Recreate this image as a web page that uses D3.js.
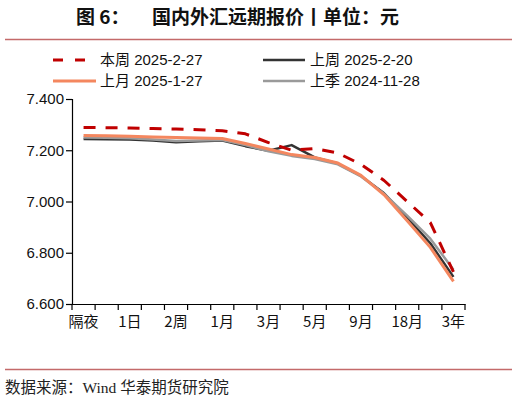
<!DOCTYPE html>
<meta charset="utf-8">
<title>国内外汇远期报价</title>
<style>
  body { margin: 0; background: #fff; }
  svg { display: block; font-family: "Liberation Sans", Arial, "Noto Sans CJK SC", sans-serif; }
  .axis path, .axis line { stroke: #000; stroke-width: 1.2; }
  .axis text { font-size: 14px; fill: #111; }
</style>
<svg width="518" height="399"></svg>
<script src="https://d3js.org/d3.v7.min.js"></script>
<script>

  // tenors (only every other one is labelled in the chart)
  var tenors = ["隔夜", "隔日", "1日", "1周", "2周", "3周", "1月", "2月", "3月", "4月",
                "5月", "6月", "9月", "1年", "18月", "2年", "3年"];

  var thisWeek    = [7.289, 7.288, 7.287, 7.285, 7.283, 7.280, 7.276, 7.264, 7.230, 7.200,
                     7.207, 7.189, 7.145, 7.082, 7.000, 6.918, 6.725];
  var lastWeek    = [7.244, 7.243, 7.242, 7.238, 7.231, 7.235, 7.238, 7.216, 7.198, 7.220,
                     7.172, 7.148, 7.100, 7.032, 6.937, 6.837, 6.706];
  var lastMonth   = [7.258, 7.257, 7.255, 7.252, 7.250, 7.248, 7.246, 7.226, 7.205, 7.183,
                     7.172, 7.150, 7.102, 7.026, 6.925, 6.821, 6.688];
  var lastQuarter = [7.250, 7.249, 7.247, 7.242, 7.236, 7.238, 7.240, 7.220, 7.196, 7.178,
                     7.166, 7.145, 7.098, 7.030, 6.945, 6.855, 6.734];

  var seriesNames = ["本周 2025-2-27", "上周 2025-2-20", "上月 2025-1-27", "上季 2024-11-28"];
  var yTicks = [6.6, 6.8, 7.0, 7.2, 7.4];

  var series = [
    { name: seriesNames[0], values: thisWeek,    color: "#C00000", width: 3,   dash: "12,10" },
    { name: seriesNames[1], values: lastWeek,    color: "#333333", width: 2.5, dash: null },
    { name: seriesNames[2], values: lastMonth,   color: "#F4875F", width: 3,   dash: null },
    { name: seriesNames[3], values: lastQuarter, color: "#9A9A9A", width: 2.5, dash: null }
  ];

  var svg = d3.select("svg");

  // title
  var title = svg.append("g")
      .style("font-family", "'Noto Sans CJK SC', sans-serif")
      .style("font-size", "19px").style("font-weight", "bold").style("fill", "#111");
  title.append("text").attr("x", 76).attr("y", 24).text("图 6：");
  title.append("text").attr("x", 152).attr("y", 24).text("国内外汇远期报价丨单位：元");

  svg.append("line").attr("x1", 5).attr("x2", 512).attr("y1", 39.5).attr("y2", 39.5)
      .attr("stroke", "#C46A6A").attr("stroke-width", 1.5);
  svg.append("line").attr("x1", 5).attr("x2", 512).attr("y1", 369.5).attr("y2", 369.5)
      .attr("stroke", "#C46A6A").attr("stroke-width", 1.5);

  // scales
  var x = d3.scaleBand().domain(tenors).range([72, 465]);
  var y = d3.scaleLinear().domain([6.6, 7.4]).range([304, 99]);

  // y axis
  svg.append("g").attr("class", "axis")
      .attr("transform", "translate(72,0)")
      .call(d3.axisLeft(y).tickValues(yTicks).tickFormat(d3.format(".3f")).tickSize(6).tickPadding(2))
      .selectAll("text").style("font-size", "15px");

  // x axis: labels every other tenor, ticks at category boundaries
  var gx = svg.append("g").attr("class", "axis")
      .attr("transform", "translate(0,304)")
      .call(d3.axisBottom(x).tickSize(0).tickPadding(12)
            .tickFormat(function(d, i) { return i % 2 === 0 ? d : ""; }));
  gx.selectAll(".tick text")
      .style("font-family", "'Noto Sans CJK SC', sans-serif")
      .style("font-size", "15px");
  gx.selectAll("line.bound")
      .data(d3.range(tenors.length + 1))
      .enter().append("line")
      .attr("x1", function(i) { return x.range()[0] + i * x.step(); })
      .attr("x2", function(i) { return x.range()[0] + i * x.step(); })
      .attr("y1", 0).attr("y2", 6);

  // lines
  var line = d3.line()
      .x(function(d, i) { return x(tenors[i]) + x.bandwidth() / 2; })
      .y(function(d) { return y(d); });

  var drawOrder = [1, 3, 2, 0];
  svg.selectAll("path.series")
      .data(drawOrder.map(function(k) { return series[k]; }))
      .enter().append("path")
      .attr("class", "series")
      .attr("d", function(s) { return line(s.values); })
      .attr("fill", "none")
      .attr("stroke", function(s) { return s.color; })
      .attr("stroke-width", function(s) { return s.width; })
      .attr("stroke-dasharray", function(s) { return s.dash; })
      .attr("stroke-linejoin", "round");

  // legend
  var legendPos = [[53, 60], [263, 60], [53, 81], [263, 81]];
  var lg = svg.selectAll("g.legend")
      .data(series)
      .enter().append("g")
      .attr("class", "legend")
      .attr("transform", function(s, i) { return "translate(" + legendPos[i] + ")"; });
  lg.append("line")
      .attr("x1", 0).attr("x2", function(s, i) { return i % 2 === 0 ? 43 : 42; })
      .attr("stroke", function(s) { return s.color; })
      .attr("stroke-width", function(s) { return s.width; })
      .attr("stroke-dasharray", function(s) { return s.dash ? "10,12" : null; });
  lg.append("text")
      .attr("x", 47)
      .attr("dy", "0.35em")
      .style("font-size", "15px").style("fill", "#111")
      .text(function(s) { return s.name; });

  // source
  svg.append("text")
      .attr("x", 5).attr("y", 393)
      .style("font-family", "'Liberation Serif', 'Noto Sans CJK SC', serif")
      .style("font-size", "15.5px").style("fill", "#222")
      .text("数据来源：Wind 华泰期货研究院");

</script>
